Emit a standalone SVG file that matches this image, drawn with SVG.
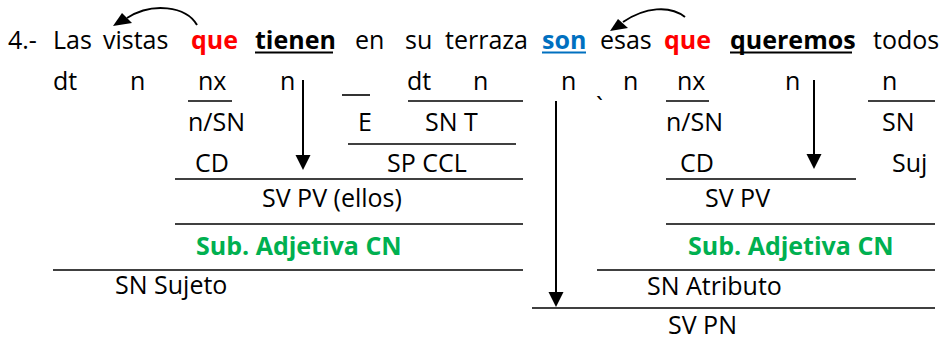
<svg xmlns="http://www.w3.org/2000/svg" width="941" height="341" viewBox="0 0 941 341">
<defs>
<style>
text{font-family:"Open Sans","Noto Sans","Liberation Sans",sans-serif;font-size:25px;fill:#000}
.b{font-weight:bold}
.red{fill:#FF0000;font-weight:bold}
.blue{fill:#0070C0;font-weight:bold}
.green{fill:#00B050;font-weight:bold}
.ln{stroke:#000;stroke-width:1.6;fill:none}
.ul{stroke:#000;stroke-width:2;fill:none}
.arr{stroke:#000;stroke-width:2;fill:none}
.head{fill:#000}
</style>
<marker id="ah" markerUnits="userSpaceOnUse" markerWidth="16" markerHeight="16" refX="12" refY="7.5" orient="auto">
<path d="M0,0 L15,7.5 L0,15 z" fill="#000"/>
</marker>
</defs>
<rect width="941" height="341" fill="#fff"/>

<g id="sentence">
<text x="8" y="49">4.-</text>
<text x="53" y="49">Las</text>
<text x="103" y="49">vistas</text>
<text x="191" y="49" class="red">que</text>
<text x="255" y="49" class="b">tienen</text>
<text x="355" y="49">en</text>
<text x="405" y="49">su</text>
<text x="445" y="49">terraza</text>
<text x="542" y="49" class="blue">son</text>
<text x="600" y="49">esas</text>
<text x="664" y="49" class="red">que</text>
<text x="730" y="49" class="b">queremos</text>
<text x="873" y="49">todos</text>
<line class="ul" x1="255" y1="52.5" x2="333" y2="52.5"/>
<line class="ul" x1="542" y1="52.5" x2="586" y2="52.5" style="stroke:#0070C0"/>
<line class="ul" x1="730" y1="52.5" x2="852" y2="52.5"/>
</g>

<g id="words-categories">
<text x="53" y="90">dt</text>
<text x="130" y="90">n</text>
<text x="198" y="90">nx</text>
<text x="280" y="90">n</text>
<text x="407" y="90">dt</text>
<text x="473" y="90">n</text>
<text x="561" y="90">n</text>
<text x="596" y="116">`</text>
<text x="623" y="90">n</text>
<text x="677" y="90">nx</text>
<text x="785" y="90">n</text>
<text x="882" y="90">n</text>
</g>

<g id="node-sujeto">
<text x="188" y="131">n/SN</text>
<text x="195" y="172">CD</text>
<text x="358" y="131">E</text>
<text x="425" y="131">SN T</text>
<text x="387" y="172">SP CCL</text>
<text x="262" y="207">SV PV (ellos)</text>
<text x="196" y="255" class="green">Sub. Adjetiva CN</text>
<text x="115" y="294">SN Sujeto</text>
</g>

<g id="node-atributo">
<text x="666" y="131">n/SN</text>
<text x="680" y="172">CD</text>
<text x="882" y="131">SN</text>
<text x="892" y="172">Suj</text>
<text x="705" y="207">SV PV</text>
<text x="688" y="255" class="green">Sub. Adjetiva CN</text>
<text x="647" y="295">SN Atributo</text>
</g>

<g id="node-predicado">
<text x="668" y="334">SV PN</text>
</g>

<g id="connectors">
<line class="ln" x1="188" y1="101" x2="232" y2="101"/>
<line class="ln" x1="342" y1="95" x2="370" y2="95"/>
<line class="ln" x1="408" y1="101" x2="523" y2="101"/>
<line class="ln" x1="348" y1="144" x2="516" y2="144"/>
<line class="ln" x1="175" y1="179" x2="523" y2="179"/>
<line class="ln" x1="175" y1="224" x2="523" y2="224"/>
<line class="ln" x1="53" y1="270" x2="523" y2="270"/>
<line class="ln" x1="666" y1="101" x2="709" y2="101"/>
<line class="ln" x1="868" y1="101" x2="935" y2="101"/>
<line class="ln" x1="666" y1="179" x2="856" y2="179"/>
<line class="ln" x1="666" y1="224" x2="935" y2="224"/>
<line class="ln" x1="597" y1="270" x2="935" y2="270"/>
<line class="ln" x1="532" y1="308" x2="935" y2="308"/>
<line class="arr" x1="303" y1="80" x2="303" y2="167" marker-end="url(#ah)"/>
<line class="arr" x1="556" y1="101" x2="556" y2="304" marker-end="url(#ah)"/>
<line class="arr" x1="814" y1="80" x2="814" y2="166" marker-end="url(#ah)"/>
<path class="arr" d="M197,25 C186,6 152,2 127,18"/>
<polygon class="head" points="113,26 122,13 132,23"/>
<path class="arr" d="M685,17 C670,5 645,7 623,22"/>
<polygon class="head" points="610,31 618,19 628,28"/>
</g>
</svg>
